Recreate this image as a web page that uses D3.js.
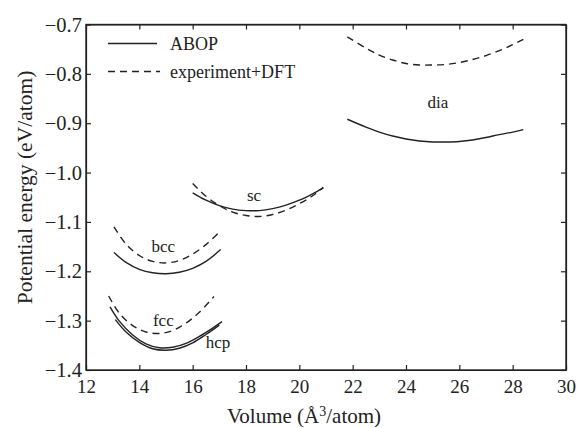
<!DOCTYPE html>
<html>
<head>
<meta charset="utf-8">
<script src="https://cdn.jsdelivr.net/npm/d3@7"></script>
<style>
  body { margin: 0; background: #fff; }
  svg text { font-family: "Liberation Serif", "Times New Roman", Times, "DejaVu Serif", serif !important; fill: #222; }
</style>
</head>
<body>
<div id="chart"></div>
<script>
// tick values
const xTicks = [12, 14, 16, 18, 20, 22, 24, 26, 28, 30];
const yTicks = [-1.4, -1.3, -1.2, -1.1, -1.0, -0.9, -0.8, -0.7];

// curves: [volume, energy]
const diaABOP = [[21.8,-0.892],[22.5,-0.908],[23,-0.918],[23.5,-0.926],[24,-0.932],[24.5,-0.936],[25,-0.938],[25.5,-0.938],[26,-0.937],[26.5,-0.934],[27,-0.929],[27.5,-0.923],[28,-0.918],[28.4,-0.913]];
const diaDFT = [[21.8,-0.725],[22.5,-0.748],[23,-0.762],[23.5,-0.772],[24,-0.779],[24.5,-0.782],[25,-0.782],[25.5,-0.781],[26,-0.777],[26.5,-0.771],[27,-0.763],[27.5,-0.753],[28,-0.741],[28.4,-0.730]];
const scABOP = [[16.0,-1.041],[16.5,-1.056],[17,-1.067],[17.5,-1.074],[18,-1.077],[18.5,-1.077],[19,-1.073],[19.5,-1.066],[20,-1.056],[20.5,-1.043],[20.9,-1.031]];
const scDFT = [[16.0,-1.022],[16.5,-1.048],[17,-1.067],[17.5,-1.080],[18,-1.087],[18.5,-1.089],[19,-1.085],[19.5,-1.076],[20,-1.063],[20.5,-1.047],[20.9,-1.030]];
const bccABOP = [[13.05,-1.162],[13.5,-1.182],[14,-1.196],[14.5,-1.203],[15,-1.205],[15.5,-1.202],[16,-1.194],[16.5,-1.180],[17.05,-1.156]];
const bccDFT = [[13.05,-1.110],[13.5,-1.145],[14,-1.168],[14.5,-1.180],[15,-1.183],[15.5,-1.178],[16,-1.165],[16.5,-1.146],[16.95,-1.123]];
const fccABOP = [[12.9,-1.272],[13.25,-1.301],[13.75,-1.329],[14.25,-1.347],[14.75,-1.355],[15.25,-1.354],[15.75,-1.346],[16.25,-1.332],[16.75,-1.315],[17.1,-1.302]];
const fccDFT = [[12.85,-1.250],[13.25,-1.285],[13.75,-1.310],[14.25,-1.323],[14.75,-1.326],[15.25,-1.320],[15.75,-1.305],[16.25,-1.283],[16.8,-1.251]];
const hcpABOP = [[13.1,-1.298],[13.5,-1.323],[14,-1.344],[14.5,-1.357],[15,-1.360],[15.5,-1.356],[16,-1.345],[16.5,-1.328],[17.0,-1.309]];

// phase labels
const phaseNames = ["dia", "sc", "bcc", "fcc", "hcp"];
const phasePos = [[25.2,-0.870],[18.3,-1.057],[14.9,-1.160],[14.9,-1.310],[16.95,-1.356]];

const W = 581, H = 428;
const margin = {top: 24.5, right: 15, bottom: 58, left: 86};
const width = W - margin.left - margin.right,
      height = H - margin.top - margin.bottom;
const serif = '"Liberation Serif", "Times New Roman", serif';

const svg = d3.select("#chart").append("svg")
    .attr("width", W).attr("height", H)
    .attr("font-family", serif)
  .append("g")
    .attr("transform", "translate(" + margin.left + "," + margin.top + ")");

const x = d3.scaleLinear().domain([12, 30]).range([0, width]);
const y = d3.scaleLinear().domain([-1.4, -0.7]).range([height, 0]);

const fmt = d => d3.format(".1f")(d).replace("-", "\u2212");

// axes, ticks pointing inward
const tick = 5;
svg.append("g").attr("transform", `translate(0,${height})`)
    .call(d3.axisBottom(x).tickValues(xTicks).tickSizeInner(-tick).tickSizeOuter(0).tickPadding(10).tickFormat(d3.format("d")))
    .call(g => g.selectAll("text").attr("font-size", 19).attr("fill", "#222"));
svg.append("g")
    .call(d3.axisLeft(y).tickValues(yTicks).tickSizeInner(-tick).tickSizeOuter(0).tickPadding(4).tickFormat(fmt))
    .call(g => g.selectAll("text").attr("font-size", 20.5).attr("fill", "#222"));
svg.append("g")
    .call(d3.axisTop(x).tickValues(xTicks).tickSizeInner(-tick).tickSizeOuter(0).tickFormat(""));
svg.append("g").attr("transform", `translate(${width},0)`)
    .call(d3.axisRight(y).tickValues(yTicks).tickSizeInner(-tick).tickSizeOuter(0).tickFormat(""));
svg.selectAll("g").attr("font-family", serif);
svg.selectAll(".domain, .tick line").attr("stroke", "#222").attr("stroke-width", 1.2);

svg.append("rect")
    .attr("width", width).attr("height", height)
    .attr("fill", "none").attr("stroke", "#222").attr("stroke-width", 1.4);

// curves
const line = d3.line().x(d => x(d[0])).y(d => y(d[1])).curve(d3.curveCatmullRom);
const solid = [diaABOP, scABOP, bccABOP, fccABOP, hcpABOP];
const dashed = [diaDFT, scDFT, bccDFT, fccDFT];

svg.append("g").selectAll("path").data(solid).enter().append("path")
    .attr("d", line).attr("fill", "none").attr("stroke", "#222").attr("stroke-width", 1.4);
svg.append("g").selectAll("path").data(dashed).enter().append("path")
    .attr("d", line).attr("fill", "none").attr("stroke", "#222").attr("stroke-width", 1.4)
    .attr("stroke-dasharray", "7,5");

// phase labels
svg.append("g").selectAll("text").data(phaseNames).enter().append("text")
    .attr("x", (d, i) => x(phasePos[i][0]))
    .attr("y", (d, i) => y(phasePos[i][1]))
    .attr("text-anchor", "middle").attr("font-size", 17)
    .text(d => d);

// legend
const legend = svg.append("g").attr("transform", "translate(22,19)");
legend.append("line").attr("x1", 0).attr("x2", 49).attr("y1", 0).attr("y2", 0)
    .attr("stroke", "#222").attr("stroke-width", 1.4);
legend.append("text").attr("x", 62).attr("y", 6).attr("font-size", 18).text("ABOP");
legend.append("line").attr("x1", 0).attr("x2", 52).attr("y1", 28).attr("y2", 28)
    .attr("stroke", "#222").attr("stroke-width", 1.4).attr("stroke-dasharray", "7,5");
legend.append("text").attr("x", 62).attr("y", 34).attr("font-size", 18).text("experiment+DFT");

// axis titles
const xt = svg.append("text")
    .attr("x", 218).attr("y", height + 53)
    .attr("text-anchor", "middle").attr("font-size", 21);
xt.append("tspan").text("Volume (\u00C5");
xt.append("tspan").attr("dy", -7).attr("font-size", 14).text("3");
xt.append("tspan").attr("dy", 7).text("/atom)");

svg.append("text")
    .attr("transform", `translate(${-54},${163}) rotate(-90)`)
    .attr("text-anchor", "middle").attr("font-size", 21.5)
    .text("Potential energy (eV/atom)");
</script>
</body>
</html>
